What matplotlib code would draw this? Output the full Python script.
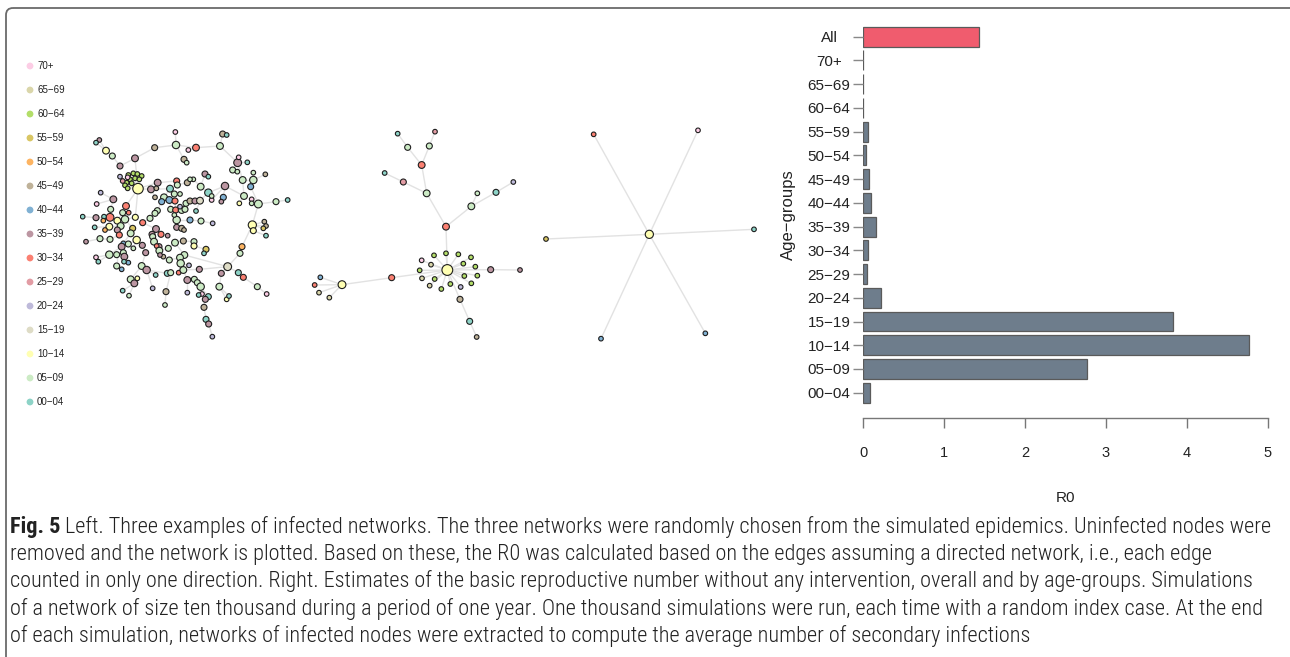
import numpy as np
import matplotlib
matplotlib.use("Agg")
import matplotlib.pyplot as plt
from matplotlib import font_manager
from matplotlib.patches import FancyBboxPatch

# ---- age groups and colours -------------------------------------------
age_groups = ["00\u221204", "05\u221209", "10\u221214", "15\u221219", "20\u221224",
              "25\u221229", "30\u221234", "35\u221239", "40\u221244", "45\u221249",
              "50\u221254", "55\u221259", "60\u221264", "65\u221269", "70+"]
age_colors = ["#8DD3C7", "#CCEBC5", "#FFFFB3", "#DEDCC6", "#BEBADA",
              "#E29CA4", "#FB8072", "#BC96A2", "#80B1D3", "#BFB299",
              "#FDB462", "#D9C664", "#B3DE69", "#DAD6AA", "#FCCDE5"]

# ---- R0 estimates (bar chart) -----------------------------------------
bar_labels = age_groups + ["All"]
r0_values = [0.09, 2.76, 4.77, 3.83, 0.22, 0.05, 0.06, 0.16,
             0.10, 0.08, 0.04, 0.06, 0.0, 0.0, 0.0, 1.43]

# ---- network layouts: (x, y, age group index, parent node) ------------
net1_nodes = [
    (174, 206, 2, -1),
    (145, 165, 12, 0), (160, 160, 12, 0), (172, 162, 12, 0), (185, 168, 12, 0),
    (150, 178, 12, 0), (165, 175, 12, 0), (178, 178, 12, 0), (140, 188, 12, 0),
    (155, 190, 12, 0), (135, 196, 12, 0), (143, 205, 12, 0), (143, 172, 14, 0),
    (128, 183, 5, 0), (120, 170, 4, 0),
    (165, 115, 7, 0), (120, 138, 7, 15), (97, 108, 1, 16), (78, 92, 2, 17),
    (58, 60, 7, 18), (48, 68, 0, 18), (224, 83, 9, 15), (288, 75, 1, 21),
    (286, 36, 14, 22), (348, 83, 6, 22), (325, 90, 14, 24), (420, 78, 1, 24),
    (428, 42, 9, 26), (440, 45, 0, 27), (312, 118, 9, 22), (320, 128, 1, 29),
    (473, 128, 7, 26), (476, 112, 14, 31), (502, 127, 0, 31), (458, 150, 1, 31),
    (472, 155, 1, 34), (488, 180, 1, 31), (520, 180, 1, 36), (520, 158, 1, 37),
    (556, 163, 9, 37), (512, 200, 8, 37), (535, 252, 1, 40), (515, 238, 14, 41),
    (515, 250, 1, 41), (588, 245, 1, 41), (623, 240, 0, 44), (492, 228, 1, 36),
    (478, 250, 2, 46), (435, 198, 7, 46), (430, 232, 8, 48), (424, 245, 7, 49),
    (395, 240, 14, 48), (385, 218, 0, 48), (395, 228, 1, 52), (362, 200, 1, 52),
    (375, 162, 7, 54), (385, 170, 0, 55), (340, 178, 1, 54), (517, 315, 2, 41),
    (520, 332, 2, 58), (553, 305, 9, 58), (558, 318, 9, 58), (550, 325, 11, 58),
    (558, 347, 0, 59), (486, 380, 10, 58), (480, 400, 1, 64), (443, 440, 3, 65),
    (424, 460, 7, 66), (475, 458, 0, 66), (490, 472, 6, 68), (532, 500, 1, 69),
    (560, 522, 14, 70), (418, 500, 1, 67), (440, 538, 2, 72), (447, 528, 0, 72),
    (358, 448, 7, 66),
    (233, 188, 7, 0), (213, 208, 7, 0), (229, 205, 9, 76), (290, 183, 6, 76),
    (292, 195, 1, 79), (322, 188, 9, 80), (330, 178, 1, 81), (270, 206, 0, 77),
    (283, 222, 1, 83), (300, 222, 1, 84), (252, 232, 1, 83), (225, 232, 9, 77),
    (245, 245, 8, 86), (268, 240, 8, 86), (285, 243, 6, 89), (272, 268, 1, 89),
    (287, 270, 6, 91), (305, 270, 1, 92), (300, 260, 4, 93), (315, 268, 1, 93),
    (318, 250, 1, 95), (330, 243, 9, 96), (345, 243, 7, 97), (360, 242, 3, 98),
    (348, 273, 0, 99), (232, 272, 1, 88), (225, 280, 1, 101), (210, 295, 1, 102),
    (188, 308, 6, 103), (166, 292, 2, 0), (138, 258, 6, 0), (146, 278, 6, 106),
    (128, 278, 1, 106), (112, 302, 2, 108), (90, 292, 6, 109), (72, 290, 0, 110),
    (70, 302, 10, 110), (48, 293, 7, 110), (8, 290, 0, 113), (92, 268, 1, 110),
    (100, 238, 7, 115), (62, 218, 4, 116), (50, 252, 14, 116), (135, 298, 1, 109),
    (122, 318, 1, 119), (88, 320, 2, 120), (75, 330, 10, 121), (44, 322, 0, 121),
    (112, 330, 7, 120), (118, 345, 6, 124), (90, 358, 1, 125), (60, 356, 1, 126),
    (18, 365, 7, 127), (158, 325, 11, 119), (152, 340, 1, 129), (170, 360, 2, 130),
    (130, 370, 8, 130), (145, 372, 1, 131), (125, 380, 7, 133), (160, 385, 1, 131),
    (187, 376, 7, 131), (197, 398, 7, 136), (88, 404, 1, 134), (48, 412, 14, 138),
    (55, 425, 0, 138), (110, 404, 1, 138), (130, 398, 1, 134), (133, 410, 7, 142),
    (145, 428, 8, 143), (132, 425, 0, 143), (110, 438, 1, 141), (125, 448, 8, 146),
    (185, 438, 1, 137), (200, 450, 7, 148), (227, 465, 0, 149), (152, 478, 1, 148),
    (163, 490, 7, 151), (172, 475, 2, 151), (128, 512, 0, 152), (147, 527, 1, 152),
    (218, 505, 4, 149), (262, 460, 0, 149), (272, 458, 1, 157), (258, 515, 9, 158),
    (255, 555, 1, 159),
    (290, 300, 1, 90), (283, 285, 1, 161), (330, 300, 8, 161), (363, 303, 1, 163),
    (398, 310, 4, 164), (290, 322, 7, 161), (305, 325, 9, 166), (312, 330, 9, 167),
    (228, 327, 7, 104), (216, 343, 7, 169), (243, 343, 6, 169), (263, 347, 7, 171),
    (218, 350, 1, 170), (222, 365, 1, 173), (237, 380, 7, 174), (230, 378, 6, 174),
    (238, 392, 1, 175), (250, 410, 9, 177), (265, 385, 1, 177), (285, 368, 1, 179),
    (310, 363, 9, 180), (342, 365, 1, 181), (342, 378, 2, 182), (378, 388, 11, 183),
    (372, 400, 0, 184), (313, 405, 1, 180), (300, 413, 1, 186), (268, 420, 1, 187),
    (240, 405, 7, 188), (302, 430, 1, 187), (327, 436, 4, 190), (296, 458, 6, 190),
    (310, 450, 1, 190), (322, 480, 7, 193), (343, 478, 1, 194), (352, 488, 1, 195),
    (362, 500, 1, 196), (322, 518, 4, 194), (366, 522, 14, 197), (356, 525, 0, 197),
    (385, 530, 0, 197), (376, 538, 7, 201), (372, 562, 9, 202), (378, 598, 0, 203),
    (386, 612, 7, 204), (397, 650, 4, 205),
]
net1_extra_edges = [(75, 193), (99, 52), (66, 186), (105, 119)]

net2_nodes = [
    (442, 450, 2, -1), (438, 320, 6, 0), (380, 220, 1, 1), (365, 135, 6, 2),
    (323, 82, 1, 3), (293, 41, 0, 4), (388, 78, 1, 3), (405, 35, 5, 6),
    (310, 186, 5, 2), (254, 159, 0, 8), (514, 259, 1, 1), (532, 220, 1, 10),
    (588, 217, 0, 10), (640, 186, 4, 12), (572, 449, 7, 0), (660, 450, 7, 14),
    (480, 538, 9, 0), (509, 604, 0, 16), (530, 651, 9, 17), (275, 473, 6, 0),
    (126, 494, 2, 19), (61, 472, 8, 20), (44, 495, 6, 20), (57, 518, 13, 20),
    (88, 533, 13, 20),
    (402, 406, 12, 0), (438, 400, 12, 0), (475, 403, 12, 0), (513, 412, 12, 0),
    (365, 421, 14, 0), (393, 434, 13, 0), (490, 431, 12, 0), (526, 440, 12, 0),
    (359, 451, 12, 0), (366, 475, 13, 0), (404, 477, 12, 0), (493, 468, 12, 0),
    (532, 467, 12, 0), (389, 497, 13, 0), (424, 507, 12, 0), (451, 492, 12, 0),
    (482, 501, 4, 0), (514, 490, 12, 0),
]

net3_nodes = [
    (358, 343, 2, -1), (191, 43, 6, 0), (504, 31, 14, 0), (48, 357, 11, 0),
    (672, 328, 0, 0), (213, 656, 8, 0), (526, 640, 8, 0),
]

cap_bold = "Fig. 5"
cap_lines = [
    " Left. Three examples of infected networks. The three networks were randomly chosen from the simulated epidemics. Uninfected nodes were",
    "removed and the network is plotted. Based on these, the R0 was calculated based on the edges assuming a directed network, i.e., each edge",
    "counted in only one direction. Right. Estimates of the basic reproductive number without any intervention, overall and by age-groups. Simulations",
    "of a network of size ten thousand during a period of one year. One thousand simulations were run, each time with a random index case. At the end",
    "of each simulation, networks of infected nodes were extracted to compute the average number of secondary infections",
]

W, H = 1290, 657
fig = plt.figure(figsize=(W / 100, H / 100), dpi=100)

installed = {f.name for f in font_manager.fontManager.ttflist}
cap_family = next((f for f in ["Liberation Sans Narrow", "Roboto Condensed",
                               "Open Sans Condensed", "Roboto", "Lato"] if f in installed),
                  "DejaVu Sans")


def px_axes(x0, y0, x1, y1):
    return fig.add_axes([x0 / W, 1 - y1 / H, (x1 - x0) / W, (y1 - y0) / H])


# background frame
base = fig.add_axes([0, 0, 1, 1])
base.set_xlim(0, W)
base.set_ylim(H, 0)
base.axis("off")
base.add_patch(FancyBboxPatch((6, 8), 1400, 800, boxstyle="round,pad=0,rounding_size=7",
                              fc="none", ec="#6a6a6a", lw=1.3))

# legend of age groups
for i, (lab, col) in enumerate(zip(age_groups[::-1], age_colors[::-1])):
    yy = 66 + i * 24.0
    base.scatter([30], [yy], s=24, color=col, edgecolors="none")
    base.text(37, yy, lab, fontsize=7, va="center", ha="left",
              family="Liberation Sans", color="#222222")


def draw_network(nodes, extra, box, lims):
    ax = px_axes(*box)
    ax.set_xlim(0, lims[0])
    ax.set_ylim(lims[1], 0)
    ax.axis("off")
    xs = np.array([n[0] for n in nodes], float)
    ys = np.array([n[1] for n in nodes], float)
    ages = [n[2] for n in nodes]
    edges = [(i, n[3]) for i, n in enumerate(nodes) if n[3] >= 0] + list(extra)
    deg = np.zeros(len(nodes))
    for a, b in edges:
        ax.plot([xs[a], xs[b]], [ys[a], ys[b]], color="#e2e2e2", lw=1.0, zorder=1)
        deg[a] += 1
        deg[b] += 1
    diam = 4.6 + 2.0 * np.log(np.maximum(deg, 1))
    ax.scatter(xs, ys, s=(diam * 0.72) ** 2, c=[age_colors[a] for a in ages],
               edgecolors="#1e1e1e", linewidths=0.8, zorder=2)


draw_network(net1_nodes, net1_extra_edges, (80, 120, 300, 340), (660, 660))
draw_network(net2_nodes, [], (300, 120, 540, 350), (720, 690))
draw_network(net3_nodes, [], (530, 120, 770, 350), (720, 690))

# ---- bar chart ---------------------------------------------------------
ax = px_axes(863, 24.8, 1268, 404.6)
ypos = np.arange(len(bar_labels))
cols = ["#6E7D8C"] * (len(bar_labels) - 1) + ["#F05C6E"]
ax.barh(ypos, r0_values, height=0.84, color=cols, edgecolor="#5a5a5a", linewidth=0.9)
ax.set_xlim(0, 5)
ax.set_ylim(-0.5, len(bar_labels) - 0.5)
for s in ["top", "right", "left"]:
    ax.spines[s].set_visible(False)
ax.spines["bottom"].set_position(("outward", 9.4))
ax.spines["bottom"].set_color("#777777")
ax.spines["bottom"].set_linewidth(1.0)
ax.set_xticks(range(6))
ax.set_yticks(ypos)
ax.set_yticklabels(bar_labels, ha="center")
ax.tick_params(axis="y", length=7.5, width=1.0, color="#888888", pad=17,
               labelsize=11, labelcolor="#222222")
ax.tick_params(axis="x", length=7.5, width=1.0, color="#777777", pad=13,
               labelsize=10.5, labelcolor="#222222")
for t in ax.get_xticklabels() + ax.get_yticklabels():
    t.set_family("Liberation Sans")
ax.set_xlabel("R0", fontsize=11, family="Liberation Sans", labelpad=22, color="#222222")
ax.set_ylabel("Age\u2212groups", fontsize=12, family="Liberation Sans", labelpad=8,
              color="#222222")

# ---- caption, sized so that the first line spans the frame ------------
fig.canvas.draw()
r = fig.canvas.get_renderer()
cap_size = 11.0
cap_weight = "light"
probe_b = base.text(0, 0, cap_bold, fontsize=cap_size, fontweight="bold", family=cap_family)
probe_n = base.text(0, 0, cap_lines[0], fontsize=cap_size, family=cap_family,
                    fontweight=cap_weight)
width = probe_b.get_window_extent(r).width + probe_n.get_window_extent(r).width
probe_b.remove()
probe_n.remove()
cap_size *= (1274 - 10) / width

bold = base.text(10, 527, cap_bold, fontsize=cap_size, fontweight="bold",
                 family=cap_family, va="center", ha="left", color="#222222")
bx1 = bold.get_window_extent(r).x1
base.text(bx1, 527, cap_lines[0], fontsize=cap_size, family=cap_family,
          fontweight=cap_weight, va="center", ha="left", color="#222222")
for k, line in enumerate(cap_lines[1:], start=1):
    base.text(10, 527 + 27.2 * k, line, fontsize=cap_size, family=cap_family,
              fontweight=cap_weight, va="center", ha="left", color="#222222")

fig.savefig("out.png", dpi=100)
